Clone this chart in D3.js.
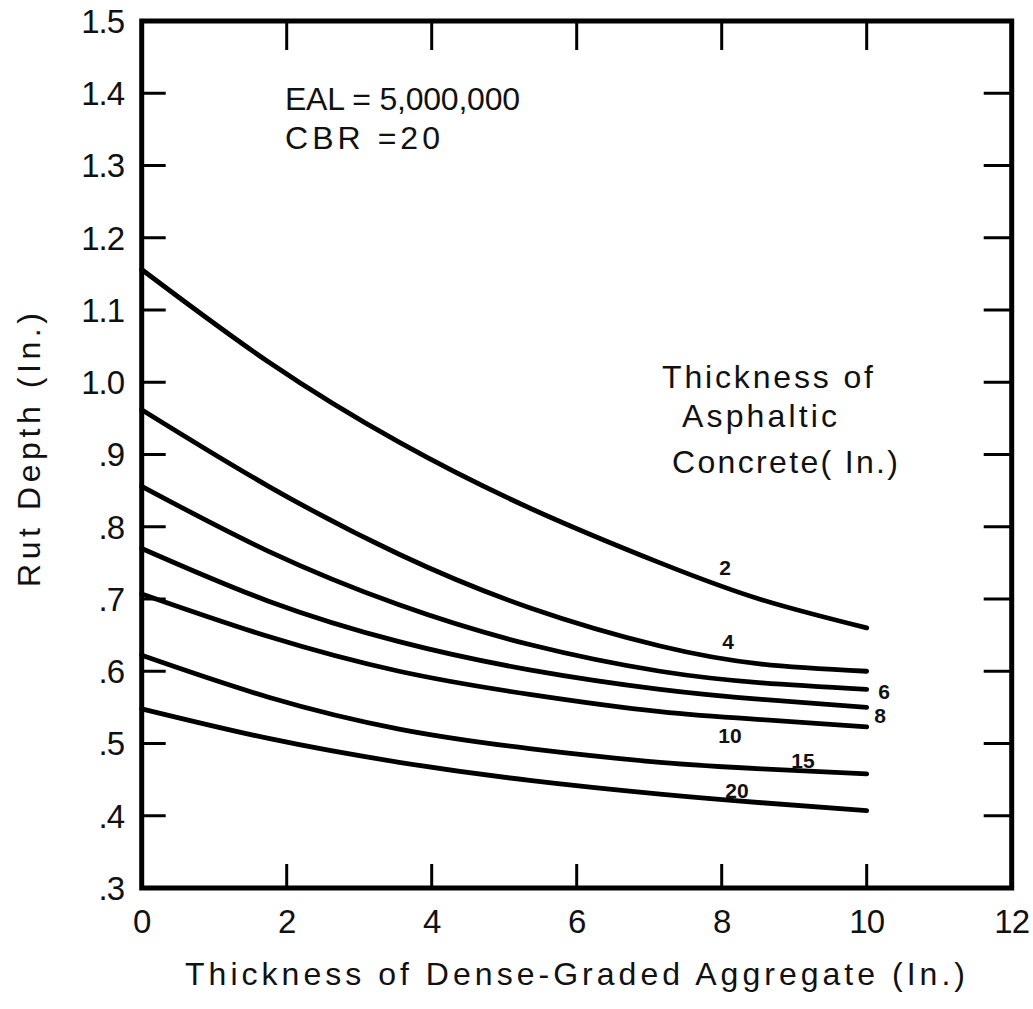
<!DOCTYPE html>
<html>
<head>
<meta charset="utf-8">
<script src="https://cdn.jsdelivr.net/npm/d3@7"></script>
<style>
  html, body { margin: 0; padding: 0; background: #fff; }
  svg { display: block; }
  text { font-family: "Liberation Sans", Arial, sans-serif; fill: #111; }
</style>
</head>
<body>
<svg id="chart" width="1033" height="1009"></svg>
<script>
// ---- Data ----
const xValues = [0, 1.75, 3.55, 5.35, 7.15, 8.55, 10];   // Thickness of dense-graded aggregate (in.)
const ac2  = [1.156, 1.028, 0.917, 0.826, 0.750, 0.699, 0.660];
const ac4  = [0.962, 0.856, 0.762, 0.688, 0.635, 0.610, 0.600];
const ac6  = [0.856, 0.766, 0.692, 0.637, 0.600, 0.584, 0.575];
const ac8  = [0.770, 0.697, 0.641, 0.602, 0.575, 0.561, 0.550];
const ac10 = [0.707, 0.648, 0.600, 0.568, 0.544, 0.533, 0.523];
const ac15 = [0.622, 0.564, 0.520, 0.493, 0.474, 0.465, 0.458];
const ac20 = [0.548, 0.507, 0.474, 0.449, 0.430, 0.418, 0.407];
const seriesNames = ["2", "4", "6", "8", "10", "15", "20"];
const seriesValues = [ac2, ac4, ac6, ac8, ac10, ac15, ac20];

const xTickValues = [0, 2, 4, 6, 8, 10, 12];
const xTickLabels = ["0", "2", "4", "6", "8", "10", "12"];
const yTickValues = [1.5, 1.4, 1.3, 1.2, 1.1, 1.0, 0.9, 0.8, 0.7, 0.6, 0.5, 0.4, 0.3];
const yTickLabels = ["1.5", "1.4", "1.3", "1.2", "1.1", "1.0", ".9", ".8", ".7", ".6", ".5", ".4", ".3"];

const xTitle = "Thickness of Dense-Graded Aggregate (In.)";
const yTitle = "Rut Depth (In.)";
const noteLines = ["EAL = 5,000,000", "CBR =20"];
const legendLines = ["Thickness of", "Asphaltic", "Concrete( In.)"];

// ---- Layout ----
const svg = d3.select("#chart");
const x = d3.scaleLinear().domain([0, 12]).range([141.7, 1011.7]);
const y = d3.scaleLinear().domain([0.3, 1.5]).range([888, 21]);

// Curves
const line = d3.line()
  .x((d, i) => x(xValues[i]))
  .y(d => y(d))
  .curve(d3.curveNatural);

svg.append("g").selectAll("path")
  .data(seriesValues)
  .join("path")
  .attr("d", d => line(d))
  .attr("fill", "none")
  .attr("stroke", "#000")
  .attr("stroke-width", 4.8)
  .attr("stroke-linecap", "round");

// Frame
svg.append("rect")
  .attr("x", x(0)).attr("y", y(1.5))
  .attr("width", x(12) - x(0)).attr("height", y(0.3) - y(1.5))
  .attr("fill", "none").attr("stroke", "#000").attr("stroke-width", 5);

// Ticks
const innerY = yTickValues.filter(v => v > 0.31 && v < 1.49);
const innerX = xTickValues.filter(v => v > 0 && v < 12);
const tg = svg.append("g").attr("stroke", "#000").attr("stroke-width", 3);
tg.selectAll(".lt").data(innerY).join("line")
  .attr("x1", x(0)).attr("x2", x(0) + 24).attr("y1", d => y(d)).attr("y2", d => y(d));
tg.selectAll(".rt").data(innerY).join("line")
  .attr("x1", x(12)).attr("x2", x(12) - 28).attr("y1", d => y(d)).attr("y2", d => y(d));
tg.selectAll(".tt").data(innerX).join("line")
  .attr("x1", d => x(d)).attr("x2", d => x(d)).attr("y1", y(1.5)).attr("y2", y(1.5) + 29);
tg.selectAll(".bt").data(innerX).join("line")
  .attr("x1", d => x(d)).attr("x2", d => x(d)).attr("y1", y(0.3)).attr("y2", y(0.3) - 24);

// Tick labels
svg.append("g").selectAll("text").data(yTickValues).join("text")
  .attr("x", 124).attr("y", d => y(d))
  .attr("dy", "0.36em")
  .attr("text-anchor", "end")
  .attr("font-size", 33)
  .attr("letter-spacing", -1)
  .text((d, i) => yTickLabels[i]);

svg.append("g").selectAll("text").data(xTickValues).join("text")
  .attr("x", d => x(d)).attr("y", 933)
  .attr("text-anchor", "middle")
  .attr("font-size", 33)
  .attr("letter-spacing", -1)
  .text((d, i) => xTickLabels[i]);

// Axis titles
svg.append("text")
  .attr("x", 185).attr("y", 985)
  .attr("font-size", 32)
  .attr("textLength", 780).attr("lengthAdjust", "spacing")
  .text(xTitle);

svg.append("text")
  .attr("transform", "translate(40,587) rotate(-90)")
  .attr("font-size", 32)
  .attr("textLength", 274).attr("lengthAdjust", "spacing")
  .text(yTitle);

// Notes
const notePos = [{x: 285, y: 110, w: 235}, {x: 285, y: 149, w: 155}];
svg.append("g").selectAll("text").data(noteLines).join("text")
  .attr("x", (d, i) => notePos[i].x).attr("y", (d, i) => notePos[i].y)
  .attr("font-size", 32)
  .attr("textLength", (d, i) => notePos[i].w).attr("lengthAdjust", "spacing")
  .text(d => d);

const legPos = [{x: 662, y: 388, w: 211}, {x: 682, y: 427, w: 155}, {x: 672, y: 473, w: 226}];
svg.append("g").selectAll("text").data(legendLines).join("text")
  .attr("x", (d, i) => legPos[i].x).attr("y", (d, i) => legPos[i].y)
  .attr("font-size", 32)
  .attr("textLength", (d, i) => legPos[i].w).attr("lengthAdjust", "spacing")
  .text(d => d);

// Curve labels
const labelPos = [
  {x: 725, y: 575}, {x: 728, y: 649}, {x: 884, y: 699}, {x: 880, y: 723},
  {x: 730, y: 743}, {x: 803, y: 768}, {x: 737, y: 798}
];
svg.append("g").selectAll("text").data(seriesNames).join("text")
  .attr("x", (d, i) => labelPos[i].x).attr("y", (d, i) => labelPos[i].y)
  .attr("text-anchor", "middle")
  .attr("font-size", 21)
  .attr("font-weight", "bold")
  .text(d => d);
</script>
</body>
</html>
